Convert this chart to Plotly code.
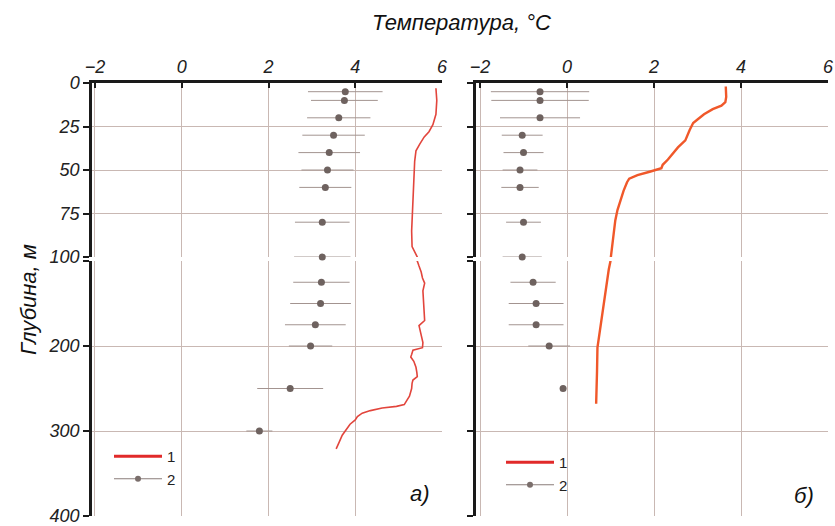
import plotly.graph_objects as go

W, H = 835, 526

# ---------------- data ----------------
# panel a) : error-bar points (depth, mean temperature, half-range)
depth_pts_a = [5, 10, 20, 30, 40, 50, 60, 80, 100, 125, 150, 175, 200, 250, 300]
temp_pts_a = [3.77, 3.75, 3.62, 3.5, 3.4, 3.36, 3.31, 3.24, 3.24, 3.22, 3.2, 3.08, 2.97, 2.5, 1.79]
err_pts_a = [0.86, 0.77, 0.73, 0.72, 0.71, 0.6, 0.6, 0.63, 0.65, 0.65, 0.7, 0.7, 0.5, 0.76, 0.3]

# panel a) : temperature profile
depth_line_a = [3, 10, 18, 24, 28, 31, 35, 39, 45, 50, 60, 74, 85, 94, 100, 106, 113, 120, 126,
                135, 147, 160, 170, 176, 183, 190, 196, 202, 205, 210, 213, 218, 225, 231, 236,
                240, 244, 250, 255, 259, 263, 269, 271, 273, 276, 279, 283, 287, 292, 298, 305,
                313, 321]
temp_line_a = [5.86, 5.88, 5.86, 5.79, 5.7, 5.59, 5.49, 5.4, 5.37, 5.36, 5.34, 5.31, 5.3, 5.31,
               5.43, 5.47, 5.52, 5.55, 5.6, 5.56, 5.57, 5.58, 5.6, 5.47, 5.5, 5.53, 5.56, 5.55,
               5.33, 5.3, 5.28, 5.35, 5.4, 5.42, 5.43, 5.33, 5.31, 5.3, 5.28, 5.25, 5.2, 5.13,
               4.95, 4.62, 4.35, 4.16, 4.05, 4.0, 3.88, 3.79, 3.7, 3.63, 3.56]

# panel б) : error-bar points
depth_pts_b = [5, 10, 20, 30, 40, 50, 60, 80, 100, 125, 150, 175, 200, 250]
temp_pts_b = [-0.62, -0.62, -0.62, -1.03, -1.0, -1.08, -1.08, -1.0, -1.03, -0.78, -0.71, -0.71, -0.41, -0.09]
err_pts_b = [1.13, 1.12, 0.92, 0.47, 0.46, 0.4, 0.43, 0.4, 0.45, 0.52, 0.63, 0.63, 0.48, 0.05]

# panel б) : temperature profile
depth_line_b = [2, 8, 11, 13, 15, 18, 21, 23, 27, 33, 37, 41, 44, 47, 49, 51, 53, 55, 57, 62, 67,
                73, 79, 86, 93, 100, 110, 130, 147, 170, 190, 202, 230, 250, 268]
temp_line_b = [3.65, 3.66, 3.64, 3.55, 3.35, 3.15, 3.0, 2.9, 2.82, 2.72, 2.55, 2.42, 2.32, 2.2,
               2.17, 1.9, 1.62, 1.43, 1.38, 1.3, 1.23, 1.16, 1.11, 1.07, 1.04, 1.0, 0.96, 0.9,
               0.85, 0.78, 0.73, 0.7, 0.69, 0.68, 0.67]

x_ticks = [-2, 0, 2, 4, 6]
y_ticks_top = [0, 25, 50, 75, 100]
y_ticks_bot = [100, 200, 300, 400]
y_ticktext_bot = ["", "200", "300", "400"]
legend_labels = ["1", "2"]

# ---------------- style ----------------
FONT = "Liberation Sans, Arial, sans-serif"
GRID = "#c9b8b3"
AX = "#1a1a1a"
ERRC = "#a39490"
PTC = "#6e625f"
RED_A = "#e2453c"
RED_B = "#f0582a"
LEGRED = "#e12a2a"


def px_x(p):
    return p / W


def px_y(p):
    return 1 - p / H


XDOM_A = [px_x(92), px_x(442)]
XDOM_B = [px_x(476), px_x(828)]
YDOM_T = [px_y(257), px_y(83)]
YDOM_B = [px_y(516), px_y(261)]
XR_A = [-2.069, 6]
XR_B = [-2.092, 6]

fig = go.Figure()


def split(depths, temps, errs, upper):
    d, t, e = [], [], []
    for a, b, c in zip(depths, temps, errs):
        if (a <= 100) == upper:
            d.append(a); t.append(b); e.append(c)
    return d, t, e


panels = [
    ("a", depth_pts_a, temp_pts_a, err_pts_a, depth_line_a, temp_line_a, RED_A, 1.6, ("x", "y"), ("x3", "y3")),
    ("b", depth_pts_b, temp_pts_b, err_pts_b, depth_line_b, temp_line_b, RED_B, 2.4, ("x2", "y2"), ("x4", "y4")),
]

for name, dp, tp, ep, dl, tl, rc, rw, top_ax, bot_ax in panels:
    for upper, (xa, ya) in ((True, top_ax), (False, bot_ax)):
        fig.add_trace(go.Scatter(x=tl, y=dl, mode="lines", xaxis=xa, yaxis=ya,
                                 line=dict(color=rc, width=rw), showlegend=False,
                                 hoverinfo="skip"))
        d, t, e = split(dp, tp, ep, upper)
        fig.add_trace(go.Scatter(x=t, y=d, mode="markers", xaxis=xa, yaxis=ya,
                                 marker=dict(color=PTC, size=7),
                                 error_x=dict(type="data", array=e, color=ERRC, thickness=1, width=0),
                                 cliponaxis=False, showlegend=False))

# legend-only entries
for lg, xa, ya in (("legend", "x3", "y3"), ("legend2", "x4", "y4")):
    fig.add_trace(go.Scatter(x=[None], y=[None], mode="lines", name=legend_labels[0],
                             line=dict(color=LEGRED, width=3), xaxis=xa, yaxis=ya, legend=lg))
    fig.add_trace(go.Scatter(x=[None], y=[None], mode="lines+markers", name=legend_labels[1],
                             line=dict(color="#8a7d7a", width=1.2), marker=dict(color="#7a6e6b", size=6),
                             xaxis=xa, yaxis=ya, legend=lg))

tickfont = dict(family=FONT, size=18, color="#222", style="italic")

xcommon_top = dict(tickvals=x_ticks, side="top", showline=True, linewidth=2.5,
                   linecolor=AX, ticks="inside", ticklen=5, tickwidth=2, tickcolor=AX,
                   showgrid=True, gridcolor=GRID, gridwidth=1, zeroline=False,
                   tickfont=tickfont, fixedrange=True, automargin=False,
                   ticklabeloverflow="allow")
xcommon_bot = dict(tickvals=x_ticks, showline=False, ticks="", showticklabels=False,
                   showgrid=True, gridcolor=GRID, gridwidth=1, zeroline=False, automargin=False)
ycommon = dict(showline=True, linewidth=2.5, linecolor=AX, ticks="outside", ticklen=6,
               tickwidth=2, tickcolor=AX, showgrid=True, gridcolor=GRID, gridwidth=1,
               zeroline=False, tickfont=tickfont, automargin=False,
               ticklabeloverflow="allow")

legfont = dict(family=FONT, size=15, color="#222")

fig.update_layout(
    width=W, height=H,
    margin=dict(l=0, r=0, t=0, b=0, pad=0),
    paper_bgcolor="white", plot_bgcolor="white",
    font=dict(family=FONT),
    xaxis=dict(domain=XDOM_A, anchor="y", range=XR_A, **xcommon_top),
    xaxis2=dict(domain=XDOM_B, anchor="y2", range=XR_B, **xcommon_top),
    xaxis3=dict(domain=XDOM_A, anchor="y3", range=XR_A, **xcommon_bot),
    xaxis4=dict(domain=XDOM_B, anchor="y4", range=XR_B, **xcommon_bot),
    yaxis=dict(domain=YDOM_T, anchor="x", range=[100, 0], tickvals=y_ticks_top, **ycommon),
    yaxis2=dict(domain=YDOM_T, anchor="x2", range=[100, 0], tickvals=y_ticks_top,
                showticklabels=False, **ycommon),
    yaxis3=dict(domain=YDOM_B, anchor="x3", range=[400, 100], tickvals=y_ticks_bot,
                ticktext=y_ticktext_bot, **ycommon),
    yaxis4=dict(domain=YDOM_B, anchor="x4", range=[400, 100], tickvals=y_ticks_bot,
                showticklabels=False, **ycommon),
    legend=dict(x=px_x(109), y=px_y(440), xanchor="left", yanchor="top",
                bgcolor="rgba(0,0,0,0)", font=legfont, tracegroupgap=0, itemwidth=48),
    legend2=dict(x=px_x(501), y=px_y(446), xanchor="left", yanchor="top",
                 bgcolor="rgba(0,0,0,0)", font=legfont, tracegroupgap=0, itemwidth=48),
    annotations=[
        dict(text="Температура, °C", x=px_x(461), y=px_y(23), xref="paper", yref="paper",
             xanchor="center", yanchor="middle", showarrow=False,
             font=dict(family=FONT, size=22, color="#111", style="italic")),
        dict(text="Глубина, м", x=px_x(28), y=px_y(300), xref="paper", yref="paper",
             xanchor="center", yanchor="middle", showarrow=False, textangle=-90,
             font=dict(family=FONT, size=22, color="#111", style="italic")),
        dict(text="а)", x=px_x(420), y=px_y(493), xref="paper", yref="paper",
             xanchor="center", yanchor="middle", showarrow=False,
             font=dict(family=FONT, size=22, color="#111", style="italic")),
        dict(text="б)", x=px_x(804), y=px_y(495), xref="paper", yref="paper",
             xanchor="center", yanchor="middle", showarrow=False,
             font=dict(family=FONT, size=22, color="#111", style="italic")),
    ],
)

fig.write_html("out.html", config={"displayModeBar": False},
               post_script="document.body.style.margin='0';document.body.style.overflow='hidden';")
